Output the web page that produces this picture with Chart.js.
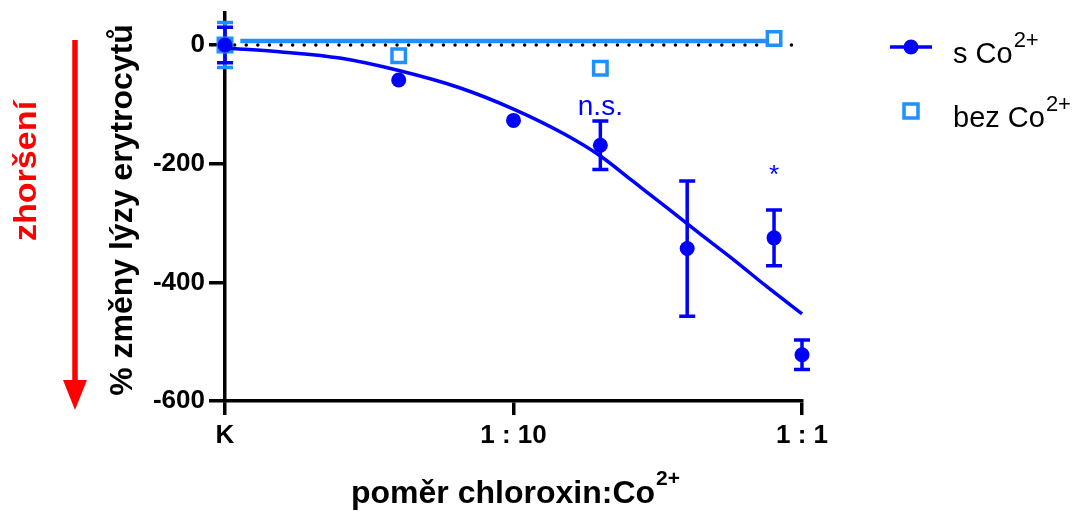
<!DOCTYPE html>
<html>
<head>
<meta charset="utf-8">
<title>Lýza erytrocytů</title>
<script src="https://cdn.jsdelivr.net/npm/chart.js@4.4.1/dist/chart.umd.min.js"></script>
<style>
  html, body { margin: 0; padding: 0; background: #fff; }
  #wrap { width: 1085px; height: 511px; }
</style>
</head>
<body>
<div id="wrap"><canvas id="chart" width="1085" height="511"></canvas></div>
<script>
// ---------- Data ----------
// ratio chloroxin:Co2+, 0.01 stands for the control (K)
const ratios    = [0.01, 0.04, 0.1, 0.2, 0.4, 0.8, 1];
const sCoMean   = [0, -59, -127, -169, -343, -325, -522];
const sCoErr    = [30, 0, 0, 41, 114, 47, 25];
const sigLabels = ['', '', '', 'n.s.', '', '*', ''];

const bezRatios = [0.01, 0.04, 0.2, 0.8];
const bezMean   = [0, -18, -39, 11];
const bezErr    = [38, 0, 0, 0];

// fitted curves
const fitX    = [0.01, 0.016, 0.025, 0.04, 0.065, 0.1, 0.15, 0.2, 0.26, 0.34, 0.44, 0.58, 0.75, 1];
const fitY    = [-5, -12, -22, -43, -72, -108, -150, -187, -230, -274, -317, -362, -406, -453];
const bezFitX = [0.0113, 0.8];
const bezFitY = [7, 7];
const zeroX   = [0.0108, 0.92];

const xTicks      = [0.01, 0.1, 1];
const xTickLabels = ['K', '1 : 10', '1 : 1'];
const yTicks      = [-600, -400, -200, 0];

// ---------- Style ----------
const FONT  = '"Liberation Sans", Arial, Helvetica, sans-serif';
const DARK  = '#0000ff';
const LIGHT = '#1e90ff';
const RED   = '#ff0000';

const pts = (xs, ys) => xs.map((x, i) => ({ x, y: ys[i] }));

// ---------- Helpers ----------
function drawErrorBars(chart, xs, means, errs, color){
  const { x, y } = chart.scales;
  const ctx = chart.ctx;
  ctx.save();
  ctx.strokeStyle = color;
  ctx.lineWidth = 3.5;
  xs.forEach((xv, i) => {
    if(!errs[i]) return;
    const px = x.getPixelForValue(xv);
    const top = y.getPixelForValue(means[i] + errs[i]);
    const bot = y.getPixelForValue(means[i] - errs[i]);
    ctx.beginPath();
    ctx.moveTo(px, top); ctx.lineTo(px, bot);
    ctx.moveTo(px - 8, top); ctx.lineTo(px + 8, top);
    ctx.moveTo(px - 8, bot); ctx.lineTo(px + 8, bot);
    ctx.stroke();
  });
  ctx.restore();
}

// text followed by a superscript; x is the left edge, or the centre when centred
function supText(ctx, base, sup, x, y, size, supSize, weight, centred){
  ctx.font = `${weight} ${size}px ${FONT}`;
  const w1 = ctx.measureText(base).width;
  ctx.font = `${weight} ${supSize}px ${FONT}`;
  const w2 = ctx.measureText(sup).width;
  const x0 = centred ? x - (w1 + w2) / 2 : x;
  ctx.textAlign = 'left';
  ctx.textBaseline = 'alphabetic';
  ctx.font = `${weight} ${size}px ${FONT}`;
  ctx.fillText(base, x0, y);
  ctx.font = `${weight} ${supSize}px ${FONT}`;
  ctx.fillText(sup, x0 + w1 + 1, y - size * 0.55);
}

function rotatedText(ctx, text, cx, cy, font, color, stretch){
  ctx.save();
  ctx.translate(cx, cy);
  ctx.rotate(-Math.PI / 2);
  ctx.scale(stretch, 1);
  ctx.font = font;
  ctx.fillStyle = color;
  ctx.textAlign = 'center';
  ctx.textBaseline = 'middle';
  ctx.fillText(text, 0, 0);
  ctx.restore();
}

const errorBarPlugin = {
  id: 'errorBars',
  beforeDatasetsDraw(chart){
    drawErrorBars(chart, bezRatios, bezMean, bezErr, LIGHT);
    drawErrorBars(chart, ratios, sCoMean, sCoErr, DARK);
  }
};

const decorPlugin = {
  id: 'decor',
  afterDraw(chart){
    const ctx = chart.ctx;
    const { x, y } = chart.scales;
    ctx.save();

    // significance marks above the error bars
    ctx.fillStyle = DARK;
    ctx.textAlign = 'center';
    ctx.textBaseline = 'alphabetic';
    sigLabels.forEach((t, i) => {
      if(!t) return;
      const px = x.getPixelForValue(ratios[i]);
      const top = y.getPixelForValue(sCoMean[i] + sCoErr[i]);
      if(t === '*'){
        ctx.font = `26px ${FONT}`;
        ctx.fillText(t, px, top - 27);
      } else {
        ctx.font = `28px ${FONT}`;
        ctx.fillText(t, px, top - 6);
      }
    });

    // axis titles
    rotatedText(ctx, '% změny lýzy erytrocytů', 123, 210, `bold 32px ${FONT}`, '#000', 1);
    ctx.fillStyle = '#000';
    supText(ctx, 'poměr chloroxin:Co', '2+', 515, 503, 32, 21, 'bold', true);

    // red arrow + label
    ctx.strokeStyle = RED;
    ctx.fillStyle = RED;
    ctx.lineWidth = 5.5;
    ctx.beginPath();
    ctx.moveTo(75, 40); ctx.lineTo(75, 384);
    ctx.stroke();
    ctx.beginPath();
    ctx.moveTo(63, 380); ctx.lineTo(87, 380); ctx.lineTo(75, 410);
    ctx.closePath();
    ctx.fill();
    rotatedText(ctx, 'zhoršení', 27, 171, `bold 31px ${FONT}`, RED, 1.1);

    // legend
    ctx.strokeStyle = DARK;
    ctx.fillStyle = DARK;
    ctx.lineWidth = 3.5;
    ctx.beginPath();
    ctx.moveTo(890, 47); ctx.lineTo(932, 47);
    ctx.stroke();
    ctx.beginPath();
    ctx.arc(911, 47, 7.5, 0, Math.PI * 2);
    ctx.fill();
    ctx.strokeStyle = LIGHT;
    ctx.fillStyle = '#fff';
    ctx.beginPath();
    ctx.rect(904, 104, 14, 14);
    ctx.fill();
    ctx.stroke();
    ctx.fillStyle = '#000';
    supText(ctx, 's Co', '2+', 953, 63, 29, 22, 'normal', false);
    supText(ctx, 'bez Co', '2+', 953, 127, 29, 22, 'normal', false);

    ctx.restore();
  }
};

// ---------- Chart ----------
const ctx = document.getElementById('chart').getContext('2d');
const chart = new Chart(ctx, {
  type: 'scatter',
  data: {
    datasets: [
      {
        label: 'zero',
        data: pts(zeroX, [0, 0]),
        showLine: true,
        borderColor: '#000',
        borderWidth: 3.5,
        borderDash: [0, 11.6],
        borderCapStyle: 'round',
        pointRadius: 0,
        clip: false,
        order: 6
      },
      {
        label: 'bez Co2+ fit',
        data: pts(bezFitX, bezFitY),
        showLine: true,
        borderColor: LIGHT,
        borderWidth: 4.5,
        pointRadius: 0,
        clip: false,
        order: 5
      },
      {
        label: 'bez Co2+',
        data: pts(bezRatios, bezMean),
        pointStyle: 'rect',
        pointRadius: 9.5,
        pointBorderWidth: 3.5,
        pointBorderColor: LIGHT,
        pointBackgroundColor: '#fff',
        clip: false,
        order: 4
      },
      {
        label: 's Co2+ fit',
        data: pts(fitX, fitY),
        showLine: true,
        borderColor: DARK,
        borderWidth: 3.5,
        cubicInterpolationMode: 'monotone',
        pointRadius: 0,
        clip: false,
        order: 3
      },
      {
        label: 's Co2+',
        data: pts(ratios, sCoMean),
        pointStyle: 'circle',
        pointRadius: 7.5,
        pointBorderWidth: 0,
        pointBackgroundColor: DARK,
        clip: false,
        order: 1
      }
    ]
  },
  options: {
    responsive: false,
    animation: false,
    events: [],
    layout: { padding: { top: 13, right: 283, left: 0, bottom: 0 } },
    plugins: {
      legend: { display: false },
      tooltip: { enabled: false }
    },
    scales: {
      x: {
        type: 'logarithmic',
        min: 0.01,
        max: 1,
        afterBuildTicks: s => { s.ticks = xTicks.map(v => ({ value: v })); },
        afterFit: s => { s.height = 110; s.paddingLeft = 0; s.paddingRight = 0; },
        ticks: {
          autoSkip: false,
          maxRotation: 0,
          padding: 5,
          color: '#000',
          font: { family: FONT, size: 26, weight: 'bold' },
          callback: (v, i) => xTickLabels[i]
        },
        grid: { drawOnChartArea: false, drawTicks: true, tickLength: 14, color: '#000', lineWidth: 3.5 },
        border: { display: true, color: '#000', width: 3.5 }
      },
      y: {
        min: -600,
        max: 54,
        afterBuildTicks: s => { s.ticks = yTicks.map(v => ({ value: v })); },
        afterFit: s => { s.width = 225; s.paddingTop = 0; s.paddingBottom = 0; },
        ticks: {
          padding: 4,
          color: '#000',
          font: { family: FONT, size: 26, weight: 'bold' },
          callback: v => String(v)
        },
        grid: { drawOnChartArea: false, drawTicks: true, tickLength: 16, color: '#000', lineWidth: 3.5 },
        border: { display: true, color: '#000', width: 3.5 }
      }
    }
  },
  plugins: [errorBarPlugin, decorPlugin]
});
</script>
</body>
</html>
